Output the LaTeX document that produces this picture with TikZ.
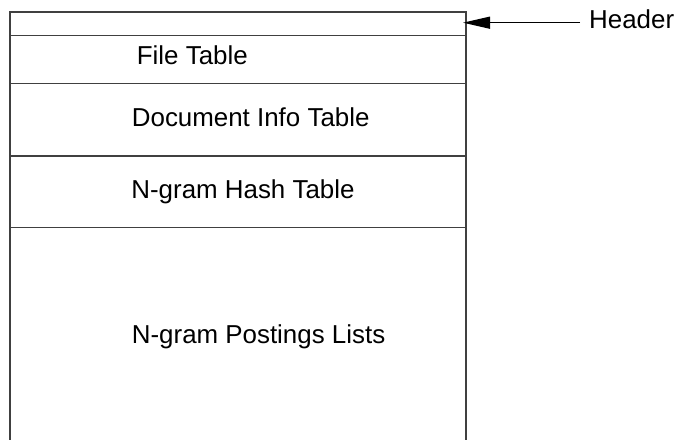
\documentclass[tikz,border=0pt]{standalone}
\usepackage{fontspec}
\setmainfont{Liberation Sans}
\usetikzlibrary{arrows.meta}
\tikzset{
  frame/.style={draw=black!75, line width=1.5bp},
  label/.style={anchor=base west, inner sep=0pt, font=\fontsize{26}{30}\selectfont},
  pointer/.style={draw=black, line width=1.3bp, -{Triangle[length=27bp,width=12bp]}}
}
\begin{document}
\begin{tikzpicture}[x=1bp,y=-1bp]
\useasboundingbox (0,0) rectangle (677,440);
% outer frame (open at the bottom)
\draw[frame] (10,440) -- (10,12) -- (466,12) -- (466,440);
% row separators
\draw[frame] (10,35.7) -- (466,35.7);
\draw[frame] (10,83.5) -- (466,83.5);
\draw[frame] (10,156) -- (466,156);
\draw[frame] (10,227.7) -- (466,227.7);
% labels
\node[label] (ft) at (136.7,65) {File Table};
\node[label] (dit) at (131.7,126.7) {Document Info Table};
\node[label] (nht) at (131.2,198.3) {N-gram Hash Table};
\node[label] (npl) at (131.7,343) {N-gram Postings Lists};
\node[label] (hdr) at (589,28.3) {Header};
% arrow
\coordinate (arrstart) at (580,22.7);
\coordinate (arrtip) at (463,22.7);
\draw[pointer] (arrstart) -- (arrtip);
\end{tikzpicture}
\end{document}
